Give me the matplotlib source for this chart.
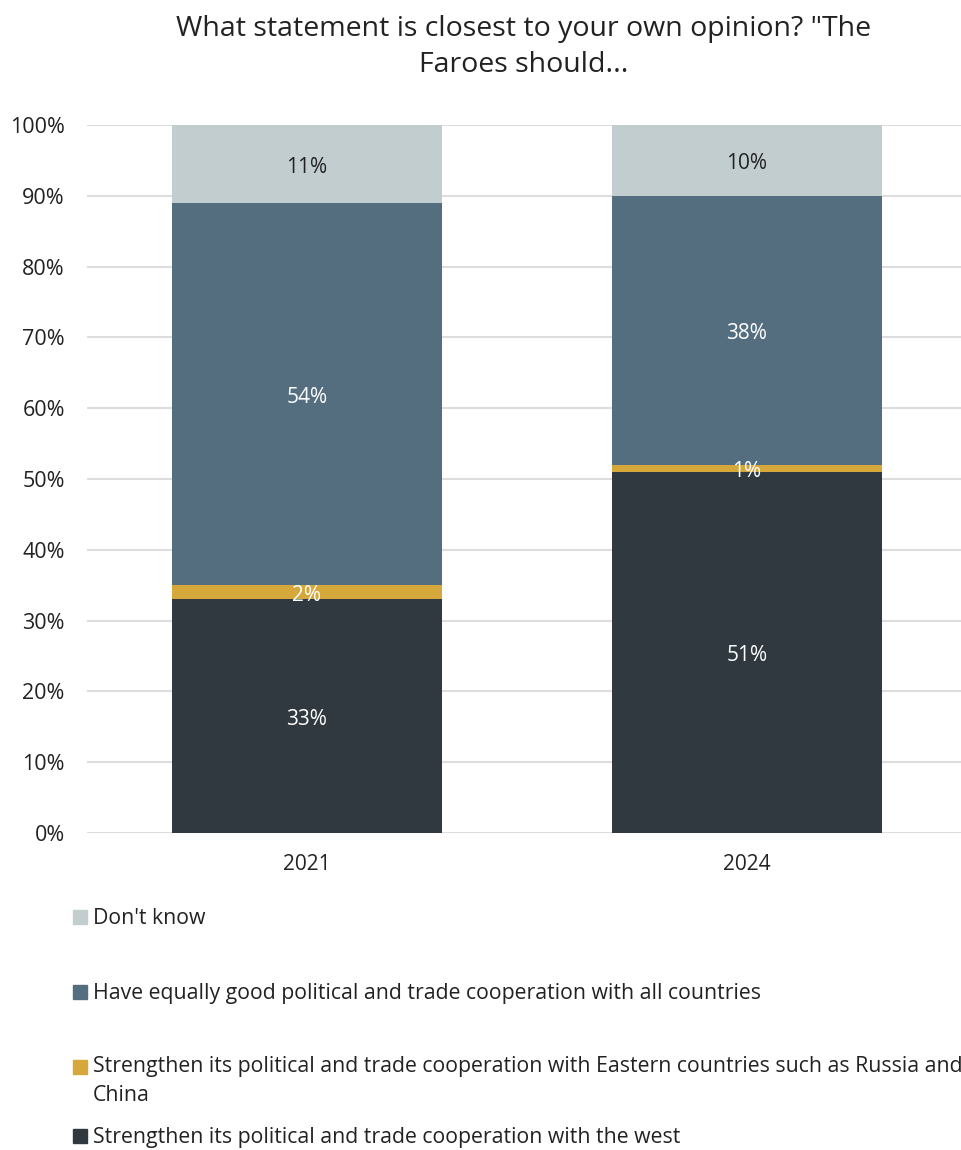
import matplotlib
matplotlib.use("Agg")
import matplotlib.pyplot as plt
from matplotlib.patches import Rectangle

years = ["2021", "2024"]
series_names = [
    "Strengthen its political and trade cooperation with the west",
    "Strengthen its political and trade cooperation with Eastern countries such as Russia and\nChina",
    "Have equally good political and trade cooperation with all countries",
    "Don't know",
]
west = [33, 51]
east = [2, 1]
equal = [54, 38]
dont_know = [11, 10]
values = [west, east, equal, dont_know]
colors = ["#2F393F", "#D6A73A", "#546E80", "#C2CDCF"]
label_colors = ["white", "white", "white", "#222222"]
yticks = [0, 10, 20, 30, 40, 50, 60, 70, 80, 90, 100]

plt.rcParams['font.family'] = ['Open Sans', 'DejaVu Sans']

W, H = 962, 1150
fig = plt.figure(figsize=(W / 100, H / 100), dpi=100)
ax = fig.add_axes([87 / W, 1 - 833 / H, (962 - 87) / W, (833 - 125) / H])

x = list(range(len(years)))
bottom = [0] * len(years)
for vals, col, lc in zip(values, colors, label_colors):
    ax.bar(x, vals, bottom=bottom, width=0.614, color=col, zorder=2)
    for i, v in enumerate(vals):
        ax.annotate(f"{v}%", (x[i], bottom[i] + v / 2), xytext=(0, -2.5),
                    textcoords="offset points", ha="center", va="center",
                    color=lc, fontsize=15, zorder=3)
    bottom = [b + v for b, v in zip(bottom, vals)]

ax.set_xlim(-0.5, 1.489)
ax.set_ylim(0, 100)
ax.set_yticks(yticks)
ax.set_yticklabels([f"{t}%" for t in yticks], fontsize=15.5, color="#222222")
ax.set_xticks(x)
ax.set_xticklabels(years, fontsize=15, color="#222222")
ax.tick_params(axis="both", length=0)
ax.tick_params(axis="y", pad=16)
ax.tick_params(axis="x", pad=15)
ax.yaxis.grid(True, color="#DDDDDD", linewidth=1.5, zorder=0)
for s in ax.spines.values():
    s.set_visible(False)

fig.text(524 / W, 1 - 47 / H, 'What statement is closest to your own opinion? "The\nFaroes should...',
         ha="center", va="center", fontsize=20.5, color="#222222", linespacing=1.4)

# legend (top-down order: reversed stack)
legend_y = [917, 992, 1067, 1136]
for name, col, yy in zip(series_names[::-1], colors[::-1], legend_y):
    fig.patches.append(Rectangle((73 / W, 1 - (yy + 7) / H), 14 / W, 14 / H,
                                 transform=fig.transFigure, color=col))
    if "\n" in name:
        fig.text(93 / W, 1 - (yy - 11) / H, name, ha="left", va="top",
                 fontsize=15.3, color="#222222", linespacing=1.5)
    else:
        fig.text(93 / W, 1 - (yy + 1) / H, name, ha="left", va="center",
                 fontsize=15.3, color="#222222")

fig.savefig("out.png", dpi=100)
